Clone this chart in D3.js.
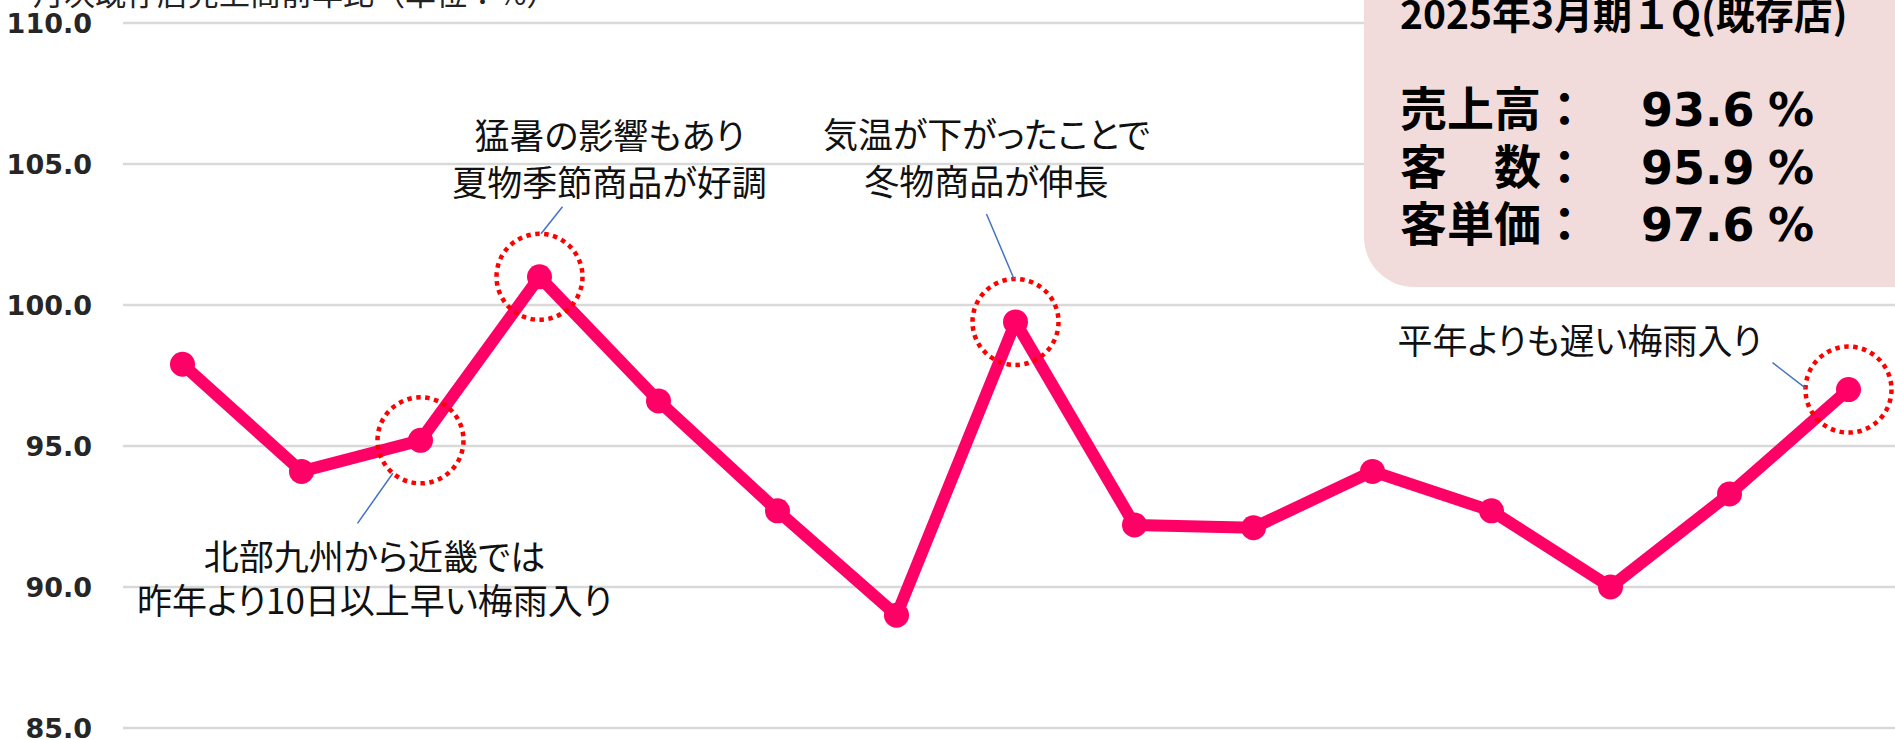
<!DOCTYPE html>
<html>
<head>
<meta charset="utf-8">
<script src="https://cdn.jsdelivr.net/npm/d3@7"></script>
<style>
  body { margin: 0; background: #fff; }
  svg { display: block; }
  .jp { font-family: "Noto Sans CJK JP", "Noto Sans", sans-serif; }
  .note { font-size: 35px; fill: #111; font-feature-settings: "palt"; }
</style>
</head>
<body>
<div id="chart"></div>
<script>
// 月次既存店売上高 前年比 (2023年4月〜2024年6月)
const months = ["23/4", "23/5", "23/6", "23/7", "23/8", "23/9", "23/10", "23/11",
  "23/12", "24/1", "24/2", "24/3", "24/4", "24/5", "24/6"];
const sales = [97.9, 94.1, 95.2, 101.0, 96.6, 92.7, 89.0, 99.4,
  92.2, 92.1, 94.1, 92.7, 90.0, 93.3, 97.0];
const yTicks = [85, 90, 95, 100, 105, 110];

const chartTitle = "月次既存店売上高前年比（単位：%）";
const boxTitle = "2025年3月期１Q(既存店)";
const boxLabels = ["売上高：", "客　数：", "客単価："];
const boxValues = ["93.6", "95.9", "97.6"];

// 注記 (対象の月 + テキスト)
const noteMonths = ["23/6", "23/7", "23/11", "24/6"];
const noteTexts = [
  ["北部九州から近畿では", "昨年より10日以上早い梅雨入り"],
  ["猛暑の影響もあり", "夏物季節商品が好調"],
  ["気温が下がったことで", "冬物商品が伸長"],
  ["平年よりも遅い梅雨入り"],
];

const W = 1895, H = 740;
const svg = d3.select("#chart").append("svg")
  .attr("width", W).attr("height", H);

const x = d3.scaleBand().domain(months).range([123, 123 + 119 * months.length]);
const y = d3.scaleLinear().domain([85, 110]).range([728, 23]);
const cx = (m) => x(m) + x.bandwidth() / 2;

// グリッド線
svg.append("g")
  .selectAll("line")
  .data(yTicks)
  .enter()
  .append("line")
  .attr("x1", 123)
  .attr("x2", W)
  .attr("y1", (d) => y(d))
  .attr("y2", (d) => y(d))
  .attr("stroke", "#d9d9d9")
  .attr("stroke-width", 2.5);

// y軸ラベル
const yAxis = svg.append("g")
  .attr("transform", "translate(92,0)")
  .call(d3.axisLeft(y).tickValues(yTicks).tickFormat(d3.format(".1f")).tickSize(0).tickPadding(0));
yAxis.select(".domain").remove();
yAxis.selectAll("text")
  .attr("font-family", "DejaVu Sans, Verdana, sans-serif")
  .attr("font-weight", "bold")
  .attr("font-size", "27px")
  .attr("fill", "#262626")
  .attr("dy", "0.36em");

// タイトル (上端で切れている)
svg.append("text")
  .attr("class", "jp")
  .attr("x", 33)
  .attr("y", 5)
  .attr("font-size", "31px")
  .attr("fill", "#222")
  .text(chartTitle);

// 右上のボックス
const box = svg.append("g");
box.append("rect")
  .attr("x", 1364)
  .attr("y", -60)
  .attr("width", 600)
  .attr("height", 347)
  .attr("rx", 50)
  .attr("fill", "#f2dcdb");
box.append("text")
  .attr("class", "jp")
  .attr("x", 1400)
  .attr("y", 29)
  .attr("font-size", "39px")
  .attr("font-weight", "bold")
  .attr("fill", "#000")
  .text(boxTitle);
boxLabels.forEach((lab, i) => {
  const by = 126 + i * 57.5;
  box.append("text")
    .attr("class", "jp")
    .attr("x", 1400)
    .attr("y", by)
    .attr("font-size", "47px")
    .attr("font-weight", "bold")
    .attr("fill", "#000")
    .text(lab);
  box.append("text")
    .attr("x", 1641)
    .attr("y", by)
    .attr("font-family", "DejaVu Sans, Verdana, sans-serif")
    .attr("font-size", "46px")
    .attr("font-weight", "bold")
    .attr("fill", "#000")
    .text(boxValues[i]);
  box.append("text")
    .attr("x", 1768)
    .attr("y", by)
    .attr("font-family", "DejaVu Sans, Verdana, sans-serif")
    .attr("font-size", "46px")
    .attr("font-weight", "bold")
    .attr("fill", "#000")
    .text("%");
});

// 折れ線
const line = d3.line()
  .x((d, i) => cx(months[i]))
  .y((d) => y(d));

svg.append("path")
  .datum(sales)
  .attr("d", line)
  .attr("fill", "none")
  .attr("stroke", "#ff0066")
  .attr("stroke-width", 12)
  .attr("stroke-linejoin", "round");

svg.selectAll(".dot")
  .data(sales)
  .enter()
  .append("circle")
  .attr("class", "dot")
  .attr("cx", (d, i) => cx(months[i]))
  .attr("cy", (d) => y(d))
  .attr("r", 12.5)
  .attr("fill", "#ff0066");

// 注記の配置 (点からのずれ)
const noteLayout = [
  { tx: -46, ty: [130, 174], a: 130, ex: -63, ey: 83 },
  { tx: 70, ty: [-128, -81], a: -88, ex: 23, ey: -70 },
  { tx: -29, ty: [-174, -127], a: -92, ex: -29, ey: -108 },
  { tx: -269, ty: [-36], a: -178, ex: -76, ey: -27 },
];
const R = 43;

noteMonths.forEach((m, k) => {
  const px = cx(m);
  const py = y(sales[months.indexOf(m)]);
  const L = noteLayout[k];
  const g = svg.append("g");

  g.append("circle")
    .attr("cx", px)
    .attr("cy", py)
    .attr("r", R)
    .attr("fill", "none")
    .attr("stroke", "#ff0000")
    .attr("stroke-width", 4.5)
    .attr("stroke-dasharray", "4.5 4.5");

  const rad = (L.a * Math.PI) / 180;
  g.append("line")
    .attr("x1", px + R * Math.cos(rad))
    .attr("y1", py + R * Math.sin(rad))
    .attr("x2", px + L.ex)
    .attr("y2", py + L.ey)
    .attr("stroke", "#4472c4")
    .attr("stroke-width", 1.5);

  noteTexts[k].forEach((t, j) => {
    g.append("text")
      .attr("class", "jp note")
      .attr("x", px + L.tx)
      .attr("y", py + L.ty[j])
      .attr("text-anchor", "middle")
      .text(t);
  });
});
</script>
</body>
</html>
